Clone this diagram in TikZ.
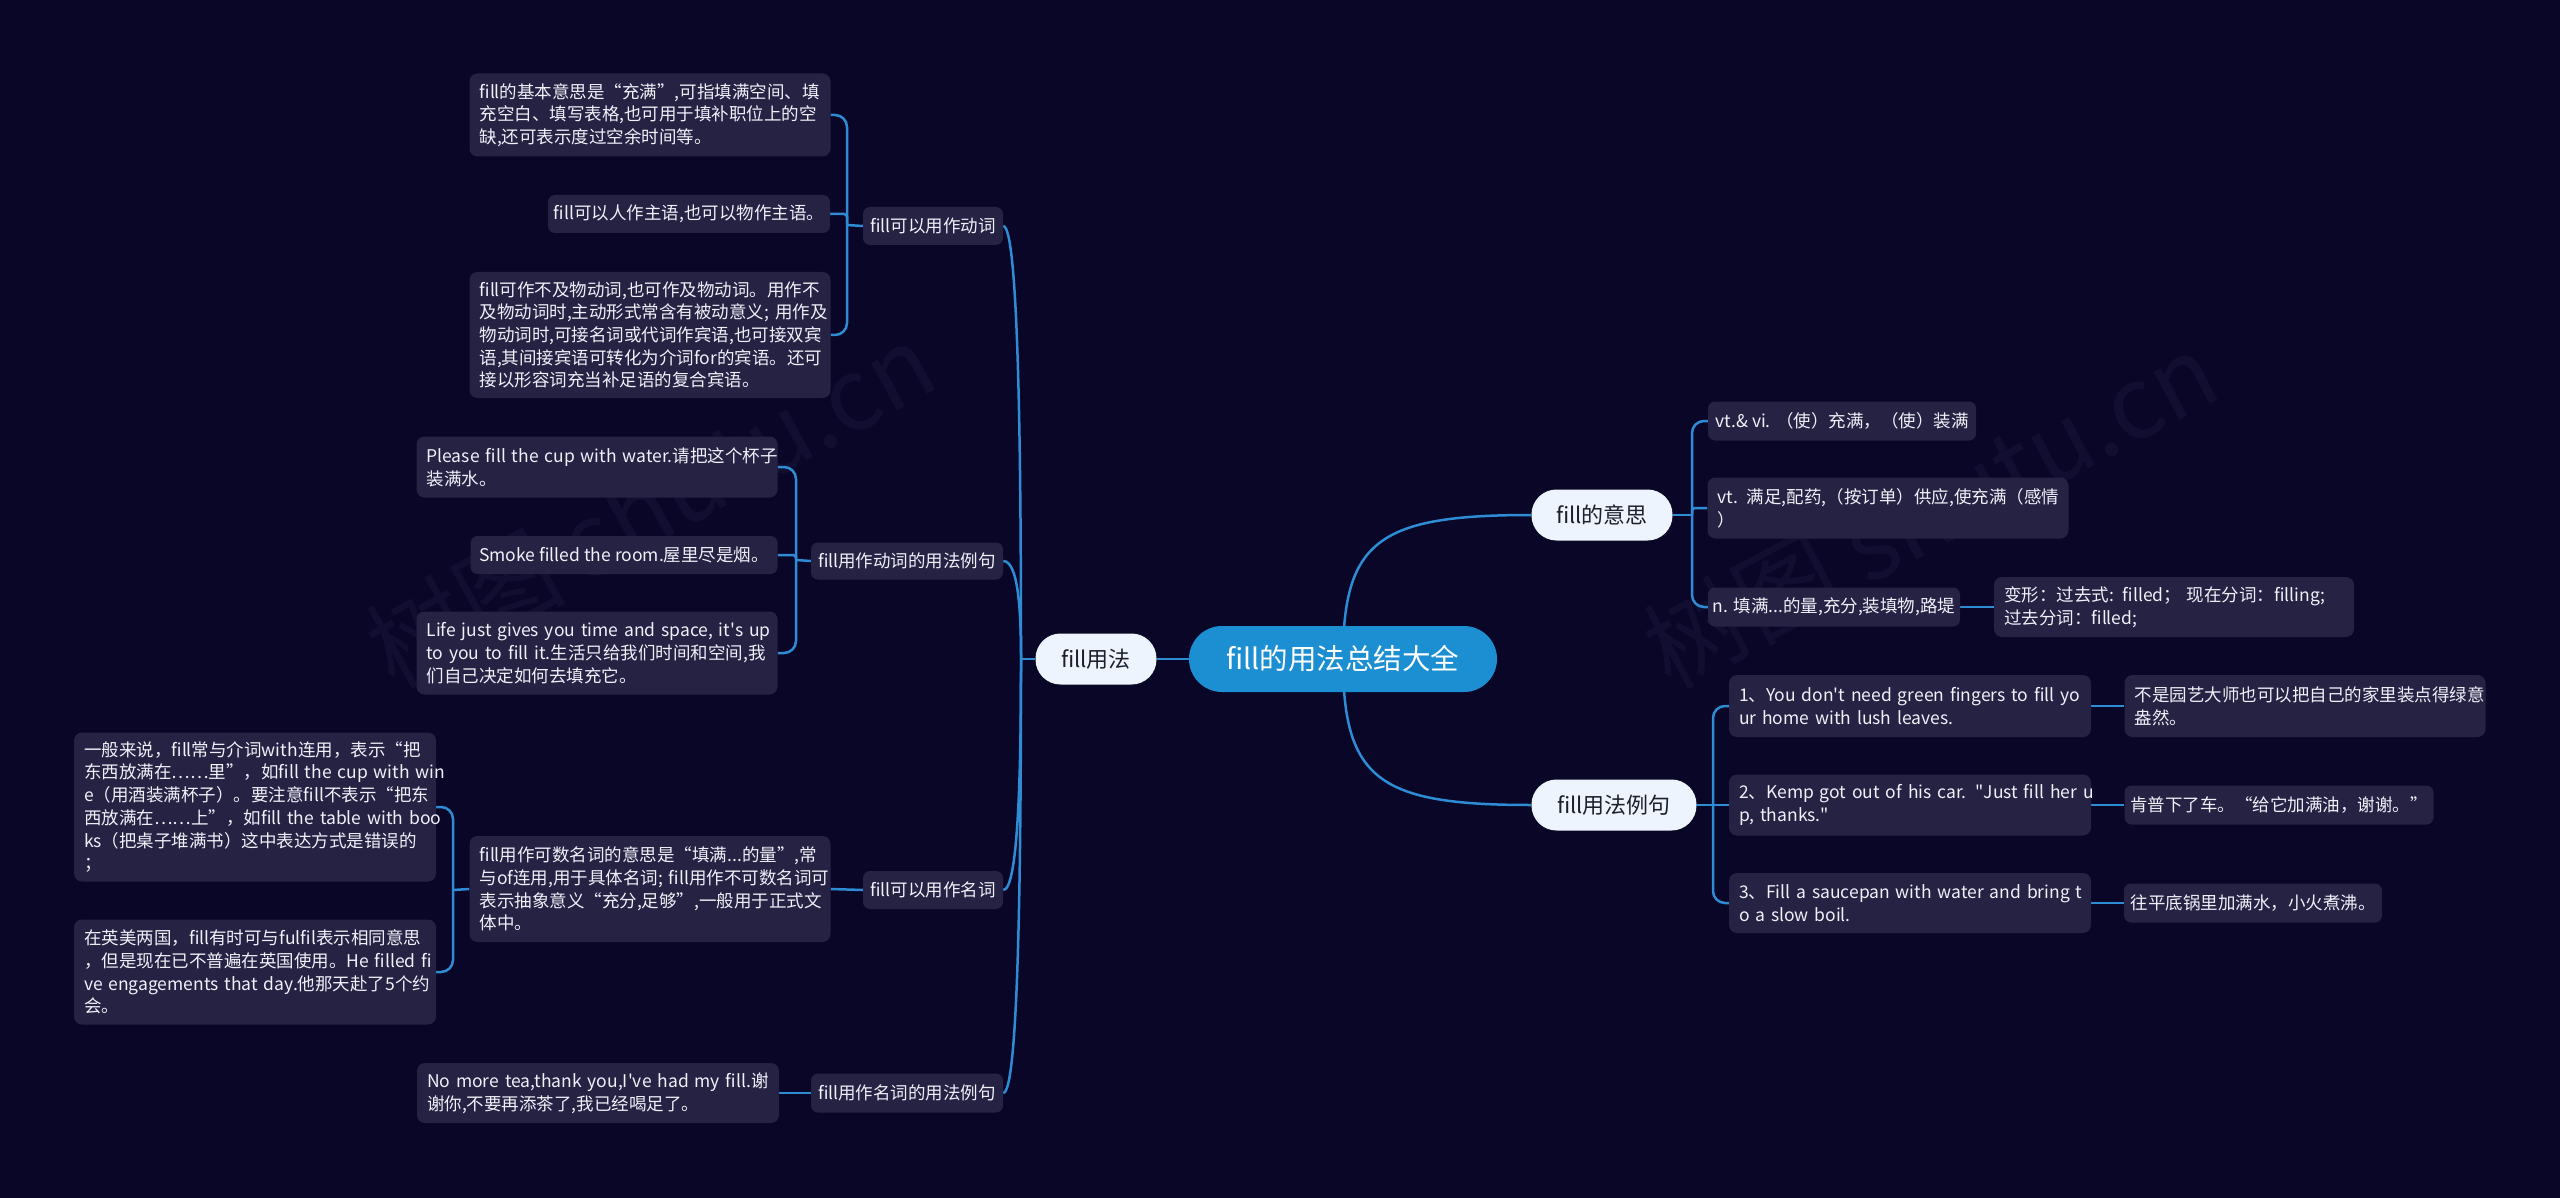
\documentclass[tikz,border=0pt]{standalone}
\usepackage{fontspec}
\setmainfont{Noto Sans CJK SC}
\definecolor{bgc}{RGB}{10,6,40}
\definecolor{leafc}{RGB}{38,34,68}
\definecolor{linec}{RGB}{45,140,212}
\definecolor{rootc}{RGB}{28,143,210}
\definecolor{lonec}{RGB}{238,244,253}
\definecolor{lonet}{RGB}{30,30,45}
\definecolor{leaft}{RGB}{240,240,248}
\definecolor{wmc}{RGB}{18,14,49}
\pgfdeclarelayer{bglayer}
\pgfdeclarelayer{linelayer}
\pgfsetlayers{bglayer,linelayer,main}
\newcommand\lnbox[1]{\mbox{#1}}
\newcommand\apo{\textquotesingle}
\newcommand\dq{\textquotedbl}
\begin{document}
\begin{tikzpicture}[x=1pt,y=-1pt,
  rootbox/.style={fill=rootc,text=white,rounded corners=33pt,minimum width=308pt,minimum height=66pt,inner sep=0pt,font=\fontsize{28.5}{32}\selectfont},
  lone/.style={fill=lonec,text=lonet,rounded corners=25pt,minimum height=51pt,inner sep=0pt,font=\fontsize{22}{26}\selectfont},
  leaf/.style={fill=leafc,text=leaft,rounded corners=8pt,inner xsep=10pt,inner ysep=0pt,align=left,font=\fontsize{17.5}{22.7}\selectfont},
  tag/.style={fill=leafc,text=leaft,rounded corners=7pt,inner sep=0pt,font=\fontsize{17.5}{22.7}\selectfont},
  wm/.style={text=wmc,font=\fontsize{100}{110}\selectfont},
  conn/.style={draw=linec,line width=2.5pt},
  brk/.style={conn,rounded corners=12pt},
  brks/.style={conn,rounded corners=3pt}]
\useasboundingbox (0,0) rectangle (2560,1198);
\begin{pgfonlayer}{bglayer}
\fill[bgc] (0,0) rectangle (2560,1198);
\node[wm,rotate=29] (wma) at (650,505) {树图 shutu.cn};
\node[wm,rotate=28] (wmb) at (1930,510) {树图 shutu.cn};
\end{pgfonlayer}

% root and level one
\node[rootbox] (root) at (1343,659) {fill的用法总结大全};
\node[lone,minimum width=121pt] (yongfa) at (1096,659) {fill用法};
\node[lone,minimum width=141pt] (yisi) at (1602,515) {fill的意思};
\node[lone,minimum width=165pt] (liju) at (1614,805) {fill用法例句};

% left level two
\node[tag,minimum width=140pt,minimum height=38pt] (dongci) at (933,226) {fill可以用作动词};
\node[tag,minimum width=192pt,minimum height=37pt] (dcli) at (907,561) {fill用作动词的用法例句};
\node[tag,minimum width=140pt,minimum height=38pt] (mingci) at (933,890) {fill可以用作名词};
\node[tag,minimum width=192pt,minimum height=39pt] (mcli) at (907,1093) {fill用作名词的用法例句};

% left leaves
\node[leaf,text width=341pt,minimum height=83pt] (a1) at (650,115) {\lnbox{fill的基本意思是“充满”,可指填满空间、填}\\\lnbox{充空白、填写表格,也可用于填补职位上的空}\\\lnbox{缺,还可表示度过空余时间等。}};
\node[tag,minimum width=282pt,minimum height=38pt] (a2) at (689,214) {fill可以人作主语,也可以物作主语。};
\node[leaf,text width=341pt,minimum height=126pt] (a3) at (650,335) {\lnbox{fill可作不及物动词,也可作及物动词。用作不}\\\lnbox{及物动词时,主动形式常含有被动意义; 用作及}\\\lnbox{物动词时,可接名词或代词作宾语,也可接双宾}\\\lnbox{语,其间接宾语可转化为介词for的宾语。还可}\\\lnbox{接以形容词充当补足语的复合宾语。}};

\node[leaf,text width=341pt,minimum height=61pt] (b1) at (597,467) {\lnbox{Please fill the cup with water.请把这个杯子}\\\lnbox{装满水。}};
\node[tag,minimum width=307pt,minimum height=38pt] (b2) at (624,555) {Smoke filled the room.屋里尽是烟。};
\node[leaf,text width=341pt,minimum height=83pt] (b3) at (597,653) {\lnbox{Life just gives you time and space, it\apo s up}\\\lnbox{to you to fill it.生活只给我们时间和空间,我}\\\lnbox{们自己决定如何去填充它。}};

\node[leaf,text width=341pt,minimum height=106pt] (c1) at (650,889) {\lnbox{fill用作可数名词的意思是“填满...的量”,常}\\\lnbox{与of连用,用于具体名词; fill用作不可数名词可}\\\lnbox{表示抽象意义“充分,足够”,一般用于正式文}\\\lnbox{体中。}};
\node[leaf,text width=342pt,minimum height=149pt] (c1a) at (255,807) {\lnbox{一般来说，fill常与介词with连用，表示“把}\\\lnbox{东西放满在……里”，如fill the cup with win}\\\lnbox{e（用酒装满杯子）。要注意fill不表示“把东}\\\lnbox{西放满在……上”，如fill the table with boo}\\\lnbox{ks（把桌子堆满书）这中表达方式是错误的}\\\lnbox{；}};
\node[leaf,text width=342pt,minimum height=105pt] (c1b) at (255,972) {\lnbox{在英美两国，fill有时可与fulfil表示相同意思}\\\lnbox{，但是现在已不普遍在英国使用。He filled fi}\\\lnbox{ve engagements that day.他那天赴了5个约}\\\lnbox{会。}};
\node[leaf,text width=342pt,minimum height=60pt] (d1) at (598,1093) {\lnbox{No more tea,thank you,I\apo ve had my fill.谢}\\\lnbox{谢你,不要再添茶了,我已经喝足了。}};

% right leaves
\node[tag,minimum width=268pt,minimum height=39pt] (r1) at (1842,421) {vt.\& vi. （使）充满，（使）装满};
\node[leaf,text width=341pt,minimum height=61pt] (r2) at (1888,508) {\lnbox{vt. 满足,配药,（按订单）供应,使充满（感情}\\\lnbox{）}};
\node[tag,minimum width=252pt,minimum height=39pt] (r3) at (1834,607) {n. 填满...的量,充分,装填物,路堤};
\node[leaf,text width=340pt,minimum height=60pt] (r3a) at (2174,607) {\lnbox{变形：过去式: filled； 现在分词：filling;}\\\lnbox{过去分词：filled;}};

\node[leaf,text width=342pt,minimum height=62pt] (e1) at (1910,706) {\lnbox{1、You don\apo t need green fingers to fill yo}\\\lnbox{ur home with lush leaves.}};
\node[leaf,text width=342pt,minimum height=61pt] (e2) at (1910,805) {\lnbox{2、Kemp got out of his car. \dq Just fill her u}\\\lnbox{p, thanks.\dq}};
\node[leaf,text width=342pt,minimum height=60pt] (e3) at (1910,903) {\lnbox{3、Fill a saucepan with water and bring t}\\\lnbox{o a slow boil.}};
\node[leaf,text width=341pt,minimum height=62pt] (t1) at (2305,706) {\lnbox{不是园艺大师也可以把自己的家里装点得绿意}\\\lnbox{盎然。}};
\node[tag,minimum width=309pt,minimum height=39pt] (t2) at (2279,805) {肯普下了车。“给它加满油，谢谢。”};
\node[tag,minimum width=258pt,minimum height=39pt] (t3) at (2253,903) {往平底锅里加满水，小火煮沸。};

% junctions
\coordinate (jf) at (1021,659);
\coordinate (jy) at (1692,515);
\coordinate (jl) at (1713,805);
\coordinate (jd) at (847,225);
\coordinate (jdc) at (796,560);
\coordinate (jc) at (453,890);

\begin{pgfonlayer}{linelayer}
% root
\draw[conn] (root.west) -- (yongfa.east);
\draw[conn] (root.center) .. controls +(0,-119) and +(-152,0) .. (yisi.west);
\draw[conn] (root.center) .. controls +(0,121) and +(-152,0) .. (liju.west);
% fill用法
\draw[conn] (yongfa.west) -- (jf);
\draw[conn] (dongci.east) .. controls +(15,0) and +(0,-216) .. (jf);
\draw[conn] (dcli.east) .. controls +(15,0) and +(0,-49) .. (jf);
\draw[conn] (mingci.east) .. controls +(15,0) and +(0,115) .. (jf);
\draw[conn] (mcli.east) .. controls +(15,0) and +(0,217) .. (jf);
% fill可以用作动词
\draw[conn] (dongci.west) -- (jd);
\draw[brk] (jd) |- (a1.east);
\draw[brks] (jd) |- (a2.east);
\draw[brk] (jd) |- (a3.east);
% fill用作动词的用法例句
\draw[conn] (dcli.west) -- (jdc);
\draw[brk] (jdc) |- (b1.east);
\draw[brks] (jdc) |- (b2.east);
\draw[brk] (jdc) |- (b3.east);
% fill可以用作名词
\draw[conn] (mingci.west) -- (c1.east);
\draw[conn] (c1.west) -- (jc);
\draw[brk] (jc) |- (c1a.east);
\draw[brk] (jc) |- (c1b.east);
% fill用作名词的用法例句
\draw[conn] (mcli.west) -- (d1.east);
% fill的意思
\draw[conn] (yisi.east) -- (jy);
\draw[brk] (jy) |- (r1.west);
\draw[brks] (jy) |- (r2.west);
\draw[brk] (jy) |- (r3.west);
\draw[conn] (r3.east) -- (r3a.west);
% fill用法例句
\draw[conn] (liju.east) -- (jl);
\draw[brk] (jl) |- (e1.west);
\draw[conn] (jl) -- (e2.west);
\draw[brk] (jl) |- (e3.west);
\draw[conn] (e1.east) -- (t1.west);
\draw[conn] (e2.east) -- (t2.west);
\draw[conn] (e3.east) -- (t3.west);
\end{pgfonlayer}
\end{tikzpicture}
\end{document}
